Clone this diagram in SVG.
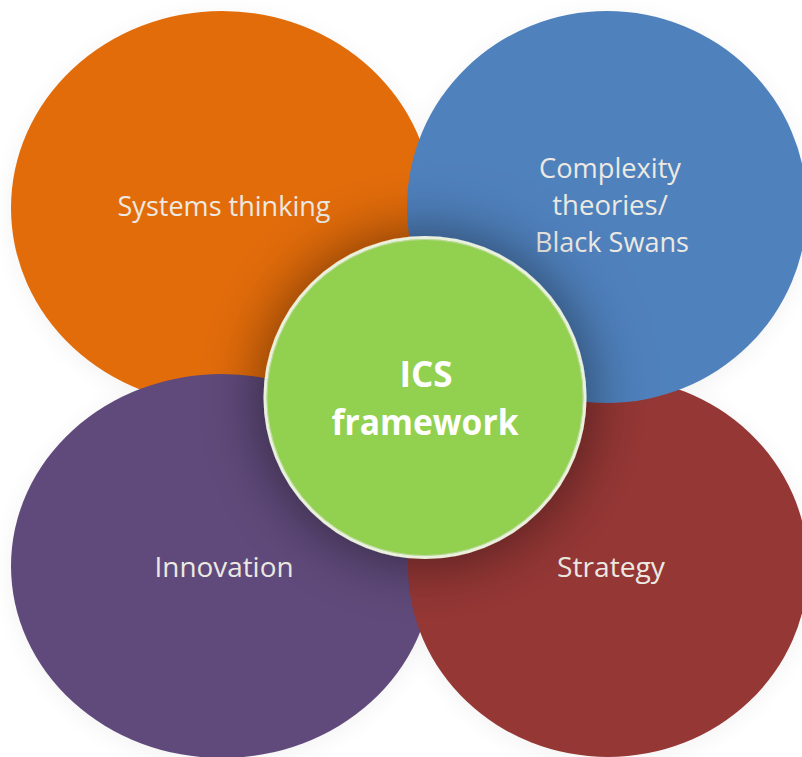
<svg xmlns="http://www.w3.org/2000/svg" width="802" height="757" viewBox="0 0 802 757">
  <style>
    .lbl { font-family: "Open Sans", "Liberation Sans", sans-serif; font-size: 27.5px; fill: #ece9e2; text-anchor: middle; }
    .ctr { font-family: "Open Sans", "Liberation Sans", sans-serif; font-size: 35px; font-weight: bold; fill: #ffffff; text-anchor: middle; }
  </style>
  <defs>
    <filter id="shadow" x="-60%" y="-60%" width="220%" height="220%">
      <feGaussianBlur in="SourceAlpha" stdDeviation="32" result="b"/>
      <feFlood flood-color="#000000" flood-opacity="0.52"/>
      <feComposite in2="b" operator="in" result="s"/>
      <feMerge>
        <feMergeNode in="s"/>
        <feMergeNode in="SourceGraphic"/>
      </feMerge>
    </filter>
    <filter id="soft" x="-20%" y="-20%" width="140%" height="140%">
      <feGaussianBlur stdDeviation="12"/>
    </filter>
  </defs>
  <rect width="802" height="757" fill="#ffffff"/>
  <g id="backdrop-shadow" opacity="0.05" filter="url(#soft)">
    <ellipse cx="222" cy="212" rx="211" ry="197" fill="#000"/>
    <ellipse cx="607" cy="211" rx="200" ry="196" fill="#000"/>
    <ellipse cx="222" cy="570" rx="211" ry="192" fill="#000"/>
    <ellipse cx="608" cy="571" rx="200" ry="190" fill="#000"/>
  </g>
  <g id="node-systems">
    <ellipse cx="222" cy="208" rx="211" ry="197" fill="#e36c0a"/>
    <text class="lbl" x="224" y="216" textLength="213" lengthAdjust="spacingAndGlyphs">Systems thinking</text>
  </g>
  <g id="node-innovation">
    <ellipse cx="222" cy="566" rx="211" ry="192" fill="#604a7b"/>
    <text class="lbl" x="224" y="577" textLength="139" lengthAdjust="spacingAndGlyphs">Innovation</text>
  </g>
  <g id="node-strategy">
    <ellipse cx="608" cy="567" rx="200" ry="190" fill="#953735"/>
    <text class="lbl" x="611" y="577" textLength="108" lengthAdjust="spacingAndGlyphs">Strategy</text>
  </g>
  <g id="node-complexity">
    <ellipse cx="607" cy="207" rx="200" ry="196" fill="#4f81bd"/>
    <text class="lbl" x="610" y="178" textLength="142" lengthAdjust="spacingAndGlyphs">Complexity</text>
    <text class="lbl" x="610" y="215">theories/</text>
    <text class="lbl" x="612" y="252" textLength="154" lengthAdjust="spacingAndGlyphs">Black Swans</text>
  </g>
  <g id="connectors"/>
  <g id="node-ics">
    <circle cx="425" cy="397.5" r="160" fill="#92d050" stroke="#e9f0dc" stroke-width="3" filter="url(#shadow)"/>
    <circle cx="425" cy="397.5" r="158" fill="none" stroke="#c8dcae" stroke-width="0.8"/>
    <text class="ctr" x="426" y="387">ICS</text>
    <text class="ctr" x="425" y="435" textLength="187" lengthAdjust="spacingAndGlyphs">framework</text>
  </g>
</svg>
